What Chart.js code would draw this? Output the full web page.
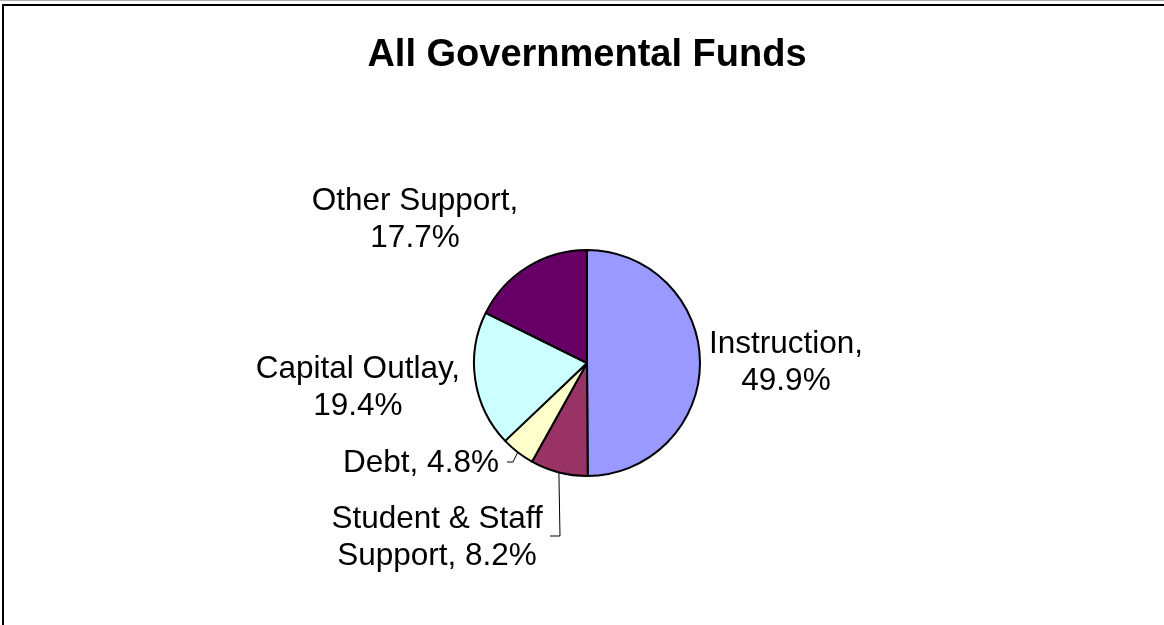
<!DOCTYPE html>
<html>
<head>
<meta charset="utf-8">
<script src="https://cdn.jsdelivr.net/npm/chart.js@4"></script>
<style>
  html, body { margin: 0; padding: 0; background: #fff; overflow: hidden; }
  #wrap { position: relative; width: 1164px; height: 625px; overflow: hidden; }
  #frame { position: absolute; left: 2px; top: 4px; width: 1200px; height: 700px;
           border-top: 2px solid #000; border-left: 2px solid #000; pointer-events: none; }
  #grayline { position: absolute; left: 0; top: 0; width: 1164px; height: 1px; background: #b0b0b0; }
</style>
</head>
<body>
<div id="wrap">
  <canvas id="c" width="1164" height="625"></canvas>
  <div id="grayline"></div>
  <div id="frame"></div>
</div>
<script>
const titleText = 'All Governmental Funds';
const categories = ['Instruction', 'Student & Staff Support', 'Debt', 'Capital Outlay', 'Other Support'];
const values = [49.9, 8.2, 4.8, 19.4, 17.7];
const colors = ['#9999FF', '#993366', '#FFFFCC', '#CCFFFF', '#660066'];
// words on first label line (0 = single line)
const wordsFirstLine = [1, 3, 0, 2, 2];
// label centre offsets from pie centre, in units of radius
const labelDX = [1.761, -1.327, -1.469, -2.027, -1.522];
const labelDY = [0.0, 1.549, 0.885, 0.221, -1.27];
// leader line bend points (radius units from centre); null = no leader
const leaders = [null, [[-0.239, 1.531], [-0.327, 1.531]], [[-0.655, 0.876], [-0.708, 0.876]], null, null];

const FONT = '"Liberation Sans", Arial, sans-serif';

function labelLines(i) {
  const full = categories[i] + ', ' + values[i].toFixed(1) + '%';
  const words = full.split(' ');
  const n = wordsFirstLine[i];
  if (!n) return [full];
  return [words.slice(0, n).join(' '), words.slice(n).join(' ')];
}

const labelPlugin = {
  id: 'pieLabels',
  afterDatasetsDraw(chart) {
    const ctx = chart.ctx;
    const meta = chart.getDatasetMeta(0);
    ctx.save();
    ctx.font = '31.5px ' + FONT;
    ctx.fillStyle = '#000';
    ctx.textAlign = 'center';
    ctx.textBaseline = 'middle';
    const lineGap = 37;
    meta.data.forEach((arc, i) => {
      const p = arc.getProps(['x', 'y', 'startAngle', 'endAngle', 'outerRadius'], true);
      const r = p.outerRadius;
      if (leaders[i]) {
        const mid = (p.startAngle + p.endAngle) / 2;
        ctx.beginPath();
        ctx.strokeStyle = '#000';
        ctx.lineWidth = 1;
        ctx.moveTo(p.x + Math.cos(mid) * r, p.y + Math.sin(mid) * r);
        leaders[i].forEach(pt => ctx.lineTo(p.x + pt[0] * r, p.y + pt[1] * r));
        ctx.stroke();
      }
      const lines = labelLines(i);
      const cx = p.x + labelDX[i] * r;
      const cy = p.y + labelDY[i] * r;
      lines.forEach((t, k) => {
        ctx.fillText(t, cx, cy + (k - (lines.length - 1) / 2) * lineGap);
      });
    });
    ctx.restore();
  }
};

new Chart(document.getElementById('c'), {
  type: 'pie',
  data: {
    labels: categories,
    datasets: [{
      data: values,
      backgroundColor: colors,
      borderColor: '#000',
      borderWidth: 2,
      hoverBorderWidth: 2,
      hoverOffset: 0,
      offset: 0
    }]
  },
  options: {
    responsive: false,
    devicePixelRatio: 1,
    animation: false,
    layout: { padding: { left: 10, right: 0, top: 0, bottom: 148 } },
    plugins: {
      legend: { display: false },
      tooltip: { enabled: false },
      title: {
        display: true,
        text: titleText,
        color: '#000',
        font: { family: FONT, size: 38, weight: 'bold', lineHeight: 1.2 },
        padding: { top: 33, bottom: 170.4 }
      }
    }
  },
  plugins: [labelPlugin]
});
</script>
</body>
</html>
